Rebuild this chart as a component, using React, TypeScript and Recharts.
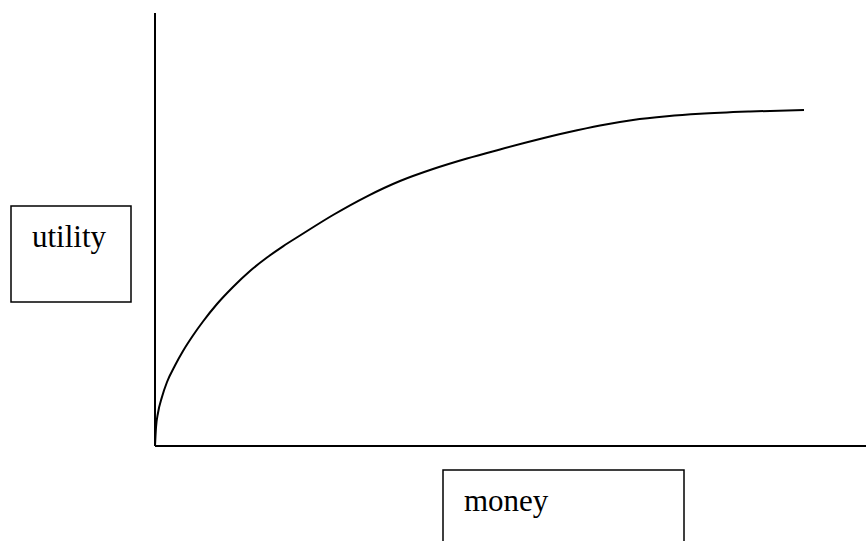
import { LineChart, Line, XAxis, YAxis } from "recharts"

// money (x) and utility (y), both on a 0–100 scale
const money = [0, 0.14, 0.42, 0.98, 1.69, 2.81, 3.94, 5.34, 6.75, 8.72, 10.97, 13.36, 15.75, 18.0, 20.39, 25.04, 29.82, 34.46, 39.1, 43.88, 48.52, 53.16, 57.95, 62.59, 67.23, 72.01, 76.65, 83.68, 91.28]
const utility = [0, 4.27, 7.62, 11.32, 14.78, 18.59, 21.94, 25.52, 28.75, 32.79, 36.72, 40.42, 43.53, 46.12, 48.61, 53.35, 57.67, 61.2, 63.97, 66.4, 68.48, 70.48, 72.38, 74.02, 75.29, 76.14, 76.72, 77.25, 77.6]

const xLabel = "money"
const yLabel = "utility"

const data = money.map((m, i) => ({ money: m, utility: utility[i] }))

const font = '"Liberation Serif", "Times New Roman", serif'

export default function App() {
  return (
    <div style={{ position: "absolute", left: 0, top: 0, width: 866, height: 541, background: "#fff", overflow: "hidden" }}>
      <LineChart width={866} height={541} data={data} margin={{ top: 13, right: 0, bottom: 65, left: 95 }}>
        <XAxis
          dataKey="money"
          type="number"
          domain={[0, 100]}
          height={30}
          tick={false}
          tickLine={false}
          axisLine={{ stroke: "#000", strokeWidth: 2 }}
        />
        <YAxis
          type="number"
          domain={[0, 100]}
          width={60}
          tick={false}
          tickLine={false}
          axisLine={{ stroke: "#000", strokeWidth: 2 }}
        />
        <Line
          type="monotone"
          dataKey="utility"
          stroke="#000"
          strokeWidth={2}
          dot={false}
          isAnimationActive={false}
        />
      </LineChart>
      <svg width={866} height={541} style={{ position: "absolute", left: 0, top: 0, pointerEvents: "none" }}>
        <rect x={11} y={206} width={120} height={96} fill="none" stroke="#000" strokeWidth={1.5} />
        <text x={32} y={247} fontFamily={font} fontSize={31} fill="#000">{yLabel}</text>
        <rect x={443} y={470} width={241} height={90} fill="none" stroke="#000" strokeWidth={1.5} />
        <text x={464} y={511} fontFamily={font} fontSize={31} fill="#000">{xLabel}</text>
      </svg>
    </div>
  )
}
